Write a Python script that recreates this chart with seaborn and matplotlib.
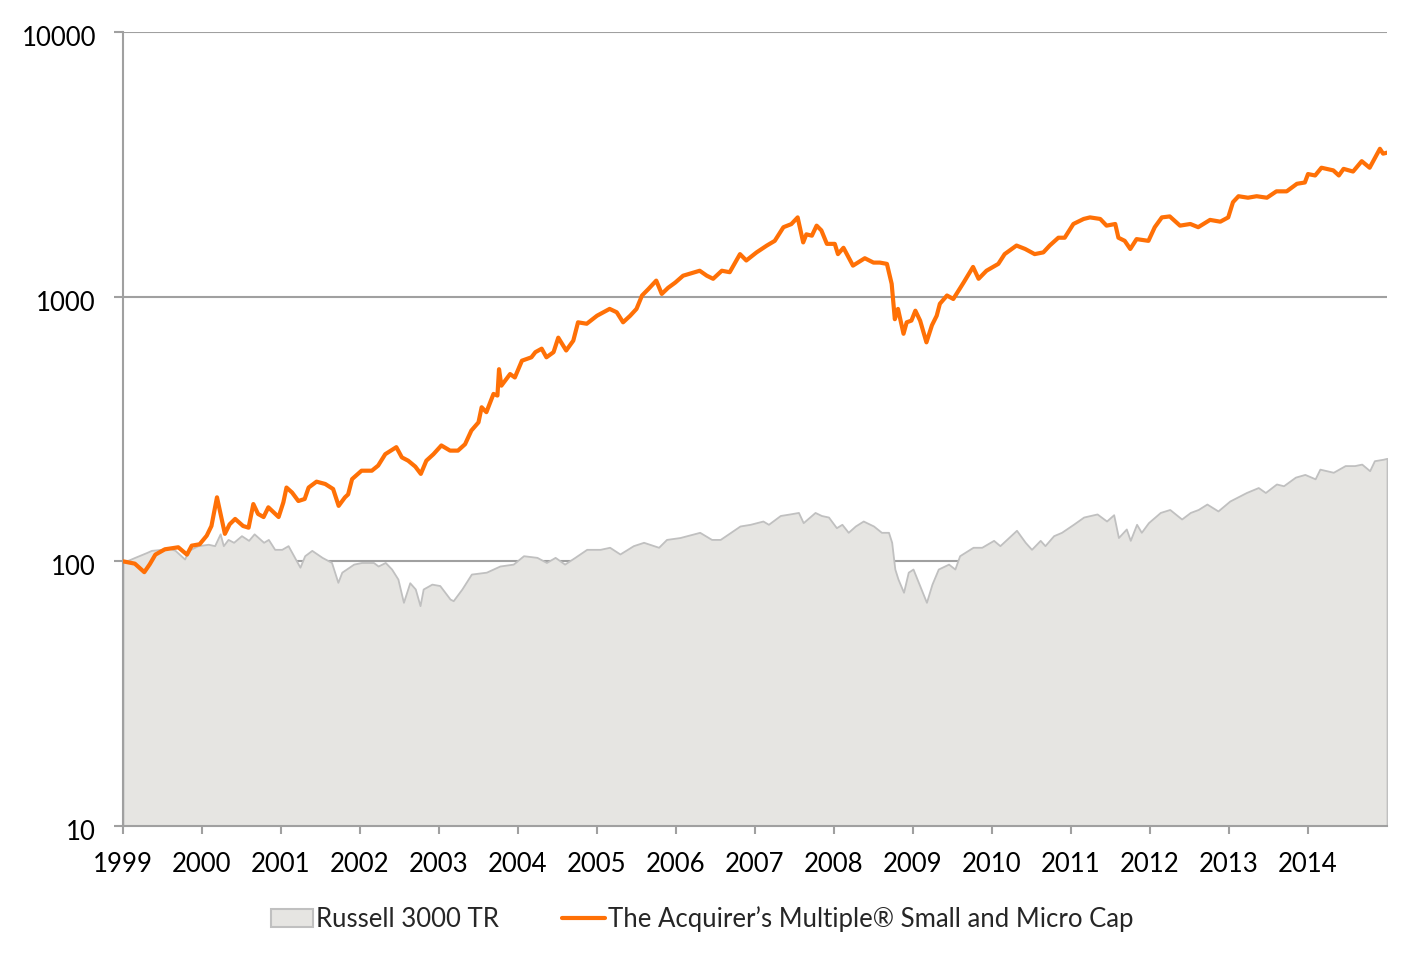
import pandas as pd
import matplotlib.pyplot as plt
import matplotlib.transforms as mtransforms
import seaborn as sns
from matplotlib.patches import Patch
from matplotlib.lines import Line2D
from matplotlib.ticker import FixedLocator, NullLocator

# -------------------------------
# Data (growth of 100)
# -------------------------------
acq_years = [
    1999.00, 1999.15, 1999.27, 1999.34, 1999.41, 1999.53, 1999.70, 1999.81, 1999.87, 1999.97,
    2000.06, 2000.12, 2000.19, 2000.24, 2000.29, 2000.35, 2000.42, 2000.52, 2000.59, 2000.65,
    2000.71, 2000.78, 2000.84, 2000.97, 2001.03, 2001.07, 2001.14, 2001.22, 2001.30, 2001.35,
    2001.45, 2001.56, 2001.66, 2001.73, 2001.81, 2001.85, 2001.90, 2002.02, 2002.15, 2002.23,
    2002.32, 2002.46, 2002.53, 2002.61, 2002.70, 2002.77, 2002.84, 2002.93, 2003.03, 2003.14,
    2003.24, 2003.33, 2003.41, 2003.50, 2003.54, 2003.60, 2003.69, 2003.74, 2003.76, 2003.79,
    2003.90, 2003.96, 2004.05, 2004.17, 2004.22, 2004.30, 2004.36, 2004.45, 2004.51, 2004.61,
    2004.70, 2004.76, 2004.87, 2005.00, 2005.16, 2005.25, 2005.33, 2005.42, 2005.50, 2005.57,
    2005.65, 2005.75, 2005.82, 2005.90, 2005.99, 2006.09, 2006.30, 2006.39, 2006.47, 2006.58,
    2006.68, 2006.81, 2006.89, 2007.02, 2007.15, 2007.25, 2007.36, 2007.46, 2007.54, 2007.61,
    2007.65, 2007.72, 2007.78, 2007.84, 2007.91, 2008.01, 2008.05, 2008.12, 2008.24, 2008.39,
    2008.50, 2008.58, 2008.67, 2008.73, 2008.77, 2008.81, 2008.88, 2008.92, 2008.98, 2009.03,
    2009.09, 2009.17, 2009.24, 2009.30, 2009.34, 2009.43, 2009.51, 2009.64, 2009.72, 2009.76,
    2009.83, 2009.93, 2010.08, 2010.16, 2010.31, 2010.42, 2010.54, 2010.65, 2010.73, 2010.84,
    2010.92, 2011.03, 2011.16, 2011.24, 2011.37, 2011.45, 2011.56, 2011.60, 2011.68, 2011.75,
    2011.83, 2011.98, 2012.06, 2012.15, 2012.25, 2012.38, 2012.51, 2012.61, 2012.76, 2012.89,
    2012.99, 2013.05, 2013.12, 2013.24, 2013.35, 2013.48, 2013.60, 2013.73, 2013.86, 2013.96,
    2014.00, 2014.09, 2014.17, 2014.32, 2014.39, 2014.45, 2014.57, 2014.68, 2014.78, 2014.91,
    2014.95, 2015.00,
]
acq_values = [
    100, 98, 91, 97.6, 106, 111, 113, 106, 114.6, 116,
    125, 136, 174.5, 149, 127, 138, 144.6, 136, 134, 164.6,
    151, 147, 160, 147, 167, 190, 182, 169, 172, 190,
    200, 196, 187.6, 162, 174.5, 179, 204.5, 220, 220, 230,
    254, 270, 247, 240, 228, 214, 240, 254, 274, 262,
    262, 277, 312, 335, 382, 366, 429, 423, 532, 461,
    510, 495, 573, 590, 617, 636, 590, 617, 700, 626,
    682, 800, 790, 847, 899, 873, 800, 847, 899, 1010,
    1068, 1150, 1024, 1080, 1130, 1200, 1253, 1200, 1168, 1253,
    1237, 1448, 1370, 1470, 1560, 1625, 1830, 1880, 1993, 1603,
    1720, 1700, 1855, 1780, 1583, 1583, 1448, 1530, 1310, 1397,
    1345, 1345, 1330, 1118, 822, 899, 724, 800, 812, 885,
    812, 672, 780, 847, 940, 1010, 980, 1130, 1237, 1295,
    1168, 1253, 1330, 1448, 1560, 1514, 1448, 1470, 1560, 1670,
    1670, 1882, 1966, 1993, 1966, 1855, 1882, 1670, 1625, 1514,
    1650, 1625, 1830, 1993, 2010, 1855, 1882, 1830, 1950, 1920,
    1993, 2275, 2396, 2365, 2396, 2365, 2500, 2500, 2670, 2700,
    2906, 2870, 3070, 3000, 2870, 3040, 2970, 3250, 3070, 3620,
    3470, 3500,
]

r3000_years = [
    1999.00, 1999.15, 1999.30, 1999.36, 1999.49, 1999.55, 1999.66, 1999.78, 1999.83, 1999.95,
    2000.08, 2000.16, 2000.23, 2000.27, 2000.33, 2000.40, 2000.50, 2000.59, 2000.66, 2000.78,
    2000.84, 2000.92, 2001.01, 2001.09, 2001.24, 2001.30, 2001.39, 2001.52, 2001.64, 2001.72,
    2001.77, 2001.92, 2002.02, 2002.17, 2002.23, 2002.32, 2002.40, 2002.48, 2002.55, 2002.63,
    2002.70, 2002.76, 2002.80, 2002.91, 2003.01, 2003.14, 2003.18, 2003.29, 2003.41, 2003.60,
    2003.77, 2003.94, 2004.07, 2004.24, 2004.36, 2004.47, 2004.59, 2004.72, 2004.87, 2005.04,
    2005.16, 2005.29, 2005.46, 2005.59, 2005.78, 2005.88, 2006.05, 2006.30, 2006.45, 2006.56,
    2006.81, 2006.94, 2007.10, 2007.17, 2007.32, 2007.44, 2007.55, 2007.61, 2007.76, 2007.84,
    2007.93, 2008.03, 2008.10, 2008.18, 2008.27, 2008.37, 2008.50, 2008.60, 2008.69, 2008.73,
    2008.77, 2008.81, 2008.88, 2008.94, 2009.00, 2009.07, 2009.17, 2009.24, 2009.32, 2009.45,
    2009.53, 2009.59, 2009.76, 2009.87, 2010.02, 2010.10, 2010.31, 2010.42, 2010.50, 2010.61,
    2010.67, 2010.78, 2010.88, 2011.03, 2011.16, 2011.33, 2011.45, 2011.54, 2011.60, 2011.70,
    2011.75, 2011.83, 2011.89, 2011.98, 2012.13, 2012.25, 2012.40, 2012.51, 2012.61, 2012.72,
    2012.86, 2013.01, 2013.22, 2013.37, 2013.46, 2013.60, 2013.69, 2013.84, 2013.96, 2014.09,
    2014.15, 2014.32, 2014.47, 2014.59, 2014.68, 2014.78, 2014.84, 2014.95, 2015.00,
]
r3000_values = [
    99, 103.5, 108, 110, 111, 113, 110, 102, 110, 114.6,
    116, 114.6, 127, 114.6, 121, 118, 125, 120, 127, 118,
    121, 111, 111, 114.6, 95, 105, 110, 103.5, 99, 83.3,
    91, 97.6, 99, 99, 96, 99, 93.5, 85.7, 70, 83,
    78.6, 68, 78.6, 82, 81, 72, 71, 78.6, 89.5, 91,
    96, 97.6, 105, 103.5, 99, 103.5, 97.6, 103.5, 111, 111,
    113, 106.6, 114.6, 118, 113, 121, 123, 128.7, 121, 121,
    136, 138, 142, 138, 149, 151, 153, 140, 153, 149,
    147, 134, 138, 128.7, 136, 142, 136, 128.7, 128.7, 118,
    93.5, 85.7, 76.4, 91, 93.5, 83, 70, 82, 93.5, 97.6,
    93.5, 105, 113, 113, 120, 114.6, 131, 118, 111, 120,
    114.6, 125, 128.7, 138, 147, 151, 142, 150, 123, 132.5,
    120, 138, 128.7, 140, 153, 157, 144.5, 153, 157, 164.6,
    155, 169, 182, 190, 182, 196, 193, 208, 213, 205,
    223, 217, 230, 230, 233, 220, 240, 243, 245,
]

year_ticks = list(range(1999, 2015))
year_labels = [str(y) for y in year_ticks]
value_ticks = [10, 100, 1000, 10000]
value_labels = ["10", "100", "1000", "10000"]

series_names = ["Russell 3000 TR", "The Acquirer\u2019s Multiple\u00ae Small and Micro Cap"]

ORANGE = "#FF7006"
AREA = "#E6E5E2"
AREA_EDGE = "#C0C0C0"
AXIS_GRAY = "#A0A0A0"

acq_df = pd.DataFrame({"Year": acq_years, "Value": acq_values})
r3000_df = pd.DataFrame({"Year": r3000_years, "Value": r3000_values})

sns.set_theme(style="white")
plt.rcParams["font.family"] = ["Lato", "DejaVu Sans"]

fig = plt.figure(figsize=(14.07, 9.58), dpi=100)
ax = fig.add_axes([0.0874, 0.1378, 0.8984, 0.8288])

# Russell 3000 area
ax.fill_between(
    r3000_df["Year"], r3000_df["Value"], 10,
    facecolor=AREA, edgecolor=AREA_EDGE, linewidth=1.3, zorder=1
)

# Acquirer's Multiple line
sns.lineplot(
    data=acq_df, x="Year", y="Value",
    color=ORANGE, linewidth=3, ax=ax,
    estimator=None, sort=False, zorder=3
)

ax.set_yscale("log")
ax.set_ylim(10, 10000)
ax.set_xlim(1999, 2015)

ax.yaxis.set_major_locator(FixedLocator(value_ticks))
ax.yaxis.set_minor_locator(NullLocator())
ax.set_yticklabels(value_labels)
ax.set_xticks(year_ticks)
ax.set_xticklabels(year_labels)

ax.set_xlabel("")
ax.set_ylabel("")

ax.set_axisbelow(True)
ax.grid(axis="y", color=AXIS_GRAY, linewidth=1.5)
ax.grid(axis="x", visible=False)

for side in ["top", "right"]:
    ax.spines[side].set_visible(False)
for side in ["left", "bottom"]:
    ax.spines[side].set_color(AXIS_GRAY)
    ax.spines[side].set_linewidth(1.5)

ax.tick_params(axis="y", direction="out", length=6.5, width=1.5,
               color=AXIS_GRAY, labelsize=18.5, pad=13, labelcolor="black", left=True)
ax.tick_params(axis="x", direction="out", length=6, width=1.5,
               color=AXIS_GRAY, labelsize=18.5, pad=13, labelcolor="black", bottom=True)

# nudge y labels a little below their gridlines, like the original
shift = mtransforms.ScaledTranslation(0, -3 / 72, fig.dpi_scale_trans)
for lbl in ax.get_yticklabels():
    lbl.set_transform(lbl.get_transform() + shift)

handles = [
    Patch(facecolor=AREA, edgecolor=AREA_EDGE, linewidth=1.5),
    Line2D([0], [0], color=ORANGE, linewidth=3),
]
fig.legend(
    handles, series_names,
    loc="center", bbox_to_anchor=(0.499, 0.041),
    ncol=2, frameon=False, fontsize=18.5,
    handlelength=1.65, handletextpad=0.12, columnspacing=2.45
)

plt.savefig("out.png", dpi=100)
plt.close()
